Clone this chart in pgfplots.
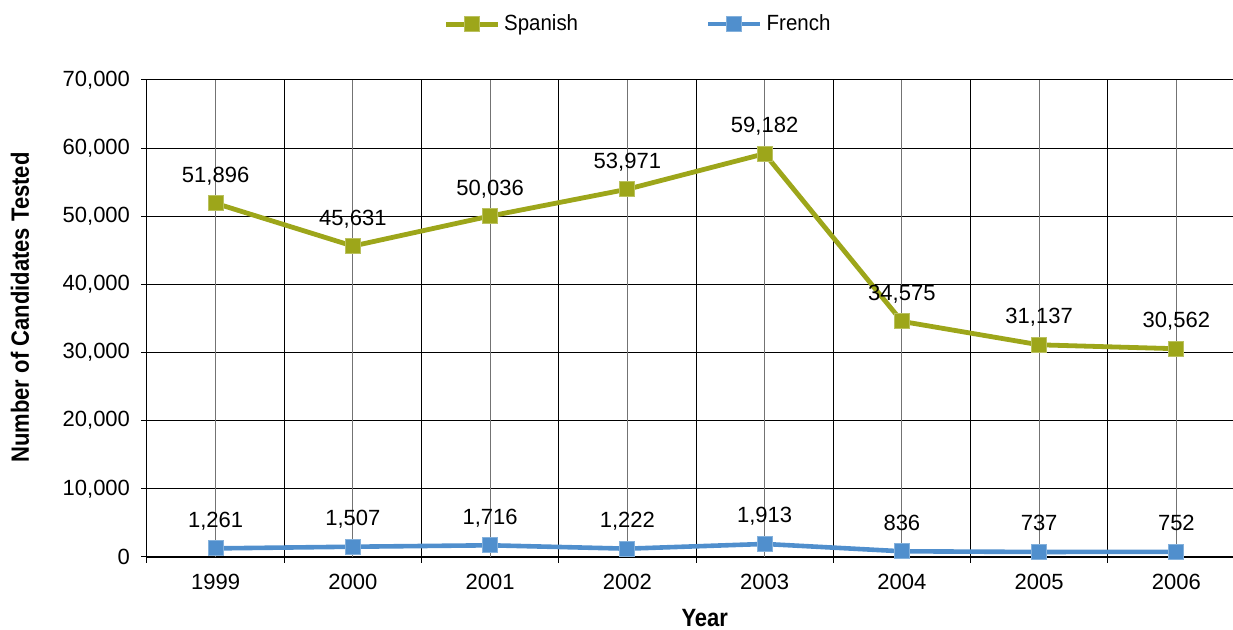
\documentclass[border=0pt]{standalone}
\usepackage{pgfplots}
\pgfplotsset{compat=1.18}
\usepackage{pgfplotstable}
\usepackage{fontspec}
\setmainfont{Liberation Sans}
\newfontfamily\condfont[FakeStretch=0.93]{Liberation Sans}
\newfontfamily\condbold[FakeStretch=0.88]{Liberation Sans}
\definecolor{spanish}{RGB}{157,166,26}
\definecolor{french}{RGB}{80,143,205}
\pgfplotstableread{
year spanish french
1999 51896 1261
2000 45631 1507
2001 50036 1716
2002 53971 1222
2003 59182 1913
2004 34575 836
2005 31137 737
2006 30562 752
}\datatable
\begin{document}
\begin{tikzpicture}
\path[use as bounding box, clip] (-73.5pt,-36.5pt) rectangle (543pt,278.5pt);
\begin{axis}[
  at={(0pt,0pt)}, anchor=south west,
  scale only axis, width=549pt, height=238.5pt,
  xmin=1998.5, xmax=2006.5, ymin=0, ymax=70000,
  axis x line*=bottom, axis y line*=left,
  x axis line style={line width=1pt},
  y axis line style={line width=0.5pt},
  xtick={1998.5,1999.5,2000.5,2001.5,2002.5,2003.5,2004.5,2005.5,2006.5},
  xticklabels={},
  extra x ticks={1999,2000,2001,2002,2003,2004,2005,2006},
  extra x tick labels={1999,2000,2001,2002,2003,2004,2005,2006},
  extra x tick style={grid=major, major grid style={black!55, line width=0.6pt}, major tick length=0pt},
  ytick={0,10000,20000,30000,40000,50000,60000,70000},
  scaled y ticks=false,
  yticklabel={\pgfmathprintnumber[1000 sep={,}]{\tick}},
  xmajorgrids, ymajorgrids,
  major grid style={black, line width=0.5pt},
  tick align=outside, major tick length=3pt,
  tick style={black, line width=0.5pt},
  /pgf/number format/assume math mode=true,
  tick label style={font=\fontsize{11}{13}\selectfont},
  xticklabel style={yshift=-5pt},
  yticklabel style={xshift=-2pt},
  xlabel={\condbold\bfseries Year},
  xlabel style={at={(axis description cs:0.508,-0.127)}, anchor=center, font=\fontsize{12.5}{14}\selectfont},
  ylabel={\condbold\bfseries Number of Candidates Tested},
  ylabel style={at={(axis description cs:-0.1157,0.523)}, anchor=center, font=\fontsize{12.5}{14}\selectfont},
  nodes near coords,
  every node near coord/.append style={anchor=base, yshift=10.5pt, font=\fontsize{11}{13}\selectfont, black},
  legend columns=2,
  legend style={at={(axis description cs:0.448,1.117)}, anchor=center, draw=none, fill=none,
    font=\condfont\fontsize{11}{13}\selectfont,
    /tikz/every even column/.append style={column sep=62pt}},
  legend image code/.code={\draw[mark repeat=2, mark phase=2] plot coordinates {(0pt,0pt) (13pt,0pt) (26pt,0pt)};},
]
\addplot[color=spanish, line width=2.4pt, mark=square*, mark size=3.75pt,
  mark options={solid, fill=spanish, draw=spanish!70!white, line width=0.5pt}]
  table[x=year, y=spanish] {\datatable};
\addlegendentry{Spanish}
\addplot[color=french, line width=2.3pt, mark=square*, mark size=3.75pt,
  mark options={solid, fill=french, draw=french!70!white, line width=0.5pt}]
  table[x=year, y=french] {\datatable};
\addlegendentry{French}
\end{axis}
\end{tikzpicture}
\end{document}
